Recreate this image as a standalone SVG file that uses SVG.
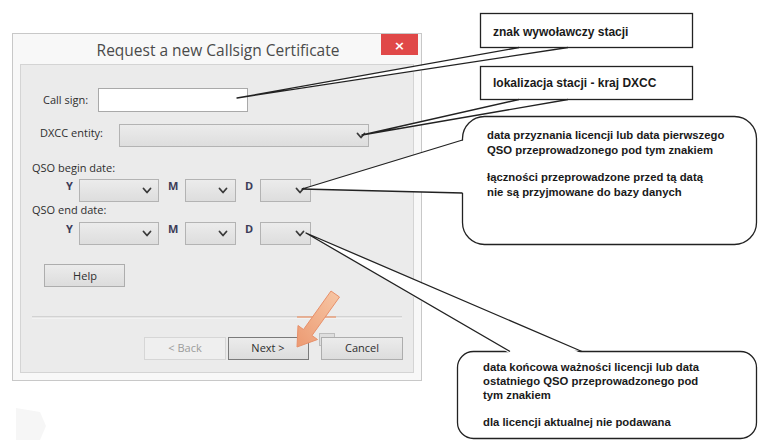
<svg xmlns="http://www.w3.org/2000/svg" width="759" height="442" viewBox="0 0 759 442">
<defs>
<linearGradient id="combo" x1="0" y1="0" x2="0" y2="1"><stop offset="0" stop-color="#ececec"/><stop offset="1" stop-color="#dddddd"/></linearGradient>
<linearGradient id="btn" x1="0" y1="0" x2="0" y2="1"><stop offset="0" stop-color="#ececec"/><stop offset="1" stop-color="#dcdcdc"/></linearGradient>
<linearGradient id="arrowg" x1="1" y1="0" x2="0" y2="1"><stop offset="0" stop-color="#f7c7a6"/><stop offset="1" stop-color="#ec9a72"/></linearGradient>
</defs>
<style>
.ui{font-family:"Open Sans","Noto Sans","DejaVu Sans",sans-serif;font-size:11px;fill:#2e2e2e}
.lbl{font-family:"Open Sans","Noto Sans","DejaVu Sans",sans-serif;font-size:11px;fill:#3c3c58;font-weight:bold}
.combo{fill:url(#combo);stroke:#b3b3b3;stroke-width:1}
.btn{fill:url(#btn);stroke:#adadad;stroke-width:1}
.chev{fill:none;stroke:#3a3a3a;stroke-width:1.8;stroke-linecap:round;stroke-linejoin:round}
.box{fill:#fff;stroke:#222;stroke-width:1.3}
.ct{font-family:"Liberation Sans",Arial,sans-serif;font-size:11.3px;font-weight:bold;fill:#1a1a1a}
.ct2{font-family:"Liberation Sans",Arial,sans-serif;font-size:12px;font-weight:bold;fill:#1a1a1a}
.wfill{fill:#fff;stroke:none}
.wline{fill:none;stroke:#222;stroke-width:1.3;stroke-linejoin:round}
</style>
<rect width="759" height="442" fill="#fff"/>
<path d="M16 408 L40 412 L46 426 L40 440 L16 440 Z" fill="#f6f6f6"/>

<g id="dialog">
<rect x="12.5" y="33.5" width="409" height="347" fill="#f8f8f8" stroke="#c8c8c8"/>
<text x="218" y="56" text-anchor="middle" style="font-family:'Open Sans','Noto Sans',sans-serif;font-size:15.5px;fill:#4a4a4a">Request a new Callsign Certificate</text>
<rect x="381" y="34" width="37" height="21" fill="#e04848"/>
<text x="399.5" y="49.5" text-anchor="middle" style="font-family:'DejaVu Sans',sans-serif;font-size:13px;font-weight:bold;fill:#fff">×</text>
<rect x="20.5" y="64.5" width="393" height="308" fill="#ebebeb" stroke="#d4d4d4"/>

<text class="ui" x="43" y="104">Call sign:</text>
<rect x="98.5" y="88.5" width="149" height="23" fill="#fff" stroke="#a9a9a9"/>

<text class="ui" x="40" y="137">DXCC entity:</text>
<rect class="combo" x="119.5" y="124.5" width="249" height="22"/>
<path class="chev" d="M357.5 133.5 L361 137.5 L364.5 133.5"/>

<text class="ui" x="32" y="172">QSO begin date:</text>
<text class="lbl" x="66" y="190">Y</text>
<rect class="combo" x="79.5" y="179.5" width="79" height="22"/>
<path class="chev" d="M143.5 188.5 L147 192.5 L150.5 188.5"/>
<text class="lbl" x="168" y="190">M</text>
<rect class="combo" x="185.5" y="179.5" width="50" height="22"/>
<path class="chev" d="M219.5 188.5 L223 192.5 L226.5 188.5"/>
<text class="lbl" x="245" y="190">D</text>
<rect class="combo" x="260.5" y="179.5" width="50" height="22"/>
<path class="chev" d="M296.5 188.5 L300 192.5 L303.5 188.5"/>

<text class="ui" x="32" y="214">QSO end date:</text>
<text class="lbl" x="66" y="233">Y</text>
<rect class="combo" x="79.5" y="222.5" width="79" height="22"/>
<path class="chev" d="M143.5 231.5 L147 235.5 L150.5 231.5"/>
<text class="lbl" x="168" y="233">M</text>
<rect class="combo" x="185.5" y="222.5" width="50" height="22"/>
<path class="chev" d="M219.5 231.5 L223 235.5 L226.5 231.5"/>
<text class="lbl" x="245" y="233">D</text>
<rect class="combo" x="260.5" y="222.5" width="50" height="22"/>
<path class="chev" d="M296.5 231.5 L300 235.5 L303.5 231.5"/>

<rect class="btn" x="44.5" y="264.5" width="80" height="22"/>
<text class="ui" x="85" y="280" text-anchor="middle">Help</text>

<line x1="32" y1="317" x2="402" y2="317" stroke="#b9b9b9"/>
<line x1="32" y1="318" x2="402" y2="318" stroke="#fafafa"/>
<line x1="297" y1="317" x2="336" y2="317" stroke="#e8a07c" stroke-width="1.5"/>

<rect x="144.5" y="337.5" width="81" height="22" fill="#efefef" stroke="#d6d6d6"/>
<text class="ui" x="185" y="352" text-anchor="middle" style="fill:#9c9c9c">&lt; Back</text>
<rect class="btn" x="228.5" y="337.5" width="80" height="22" style="stroke:#7a7a7a"/>
<text class="ui" x="268" y="352" text-anchor="middle">Next &gt;</text>
<rect x="319.5" y="333.5" width="15" height="12" fill="#dedede" stroke="#bdbdbd"/>
<rect class="btn" x="321.5" y="337.5" width="81" height="22"/>
<text class="ui" x="362" y="352" text-anchor="middle">Cancel</text>
</g>

<g id="arrow">
<polygon points="297,347 317.5,339.5 312,335.5 339.5,297 331,291 303.5,329.5 298,325.5" fill="url(#arrowg)" stroke="#e8906a" stroke-width="1"/>
</g>

<g id="callout-callsign">
<rect class="box" x="480.5" y="13.5" width="212" height="34"/>
<text class="ct2" x="493" y="36">znak wywoławczy stacji</text>
</g>
<g id="callout-dxcc">
<rect class="box" x="480.5" y="66.5" width="212" height="33"/>
<text class="ct2" x="493" y="87">lokalizacja stacji - kraj DXCC</text>
</g>
<g id="callout-begin">
<rect class="box" x="462.5" y="116.5" width="294" height="128" rx="22" ry="22"/>
<text class="ct" x="487" y="139">data przyznania licencji lub data pierwszego</text>
<text class="ct" x="487" y="154">QSO przeprowadzonego pod tym znakiem</text>
<text class="ct" x="487" y="181">łączności przeprowadzone przed tą datą</text>
<text class="ct" x="487" y="196">nie są przyjmowane do bazy danych</text>
</g>
<g id="callout-end">
<rect class="box" x="457.5" y="351.5" width="299" height="87" rx="16" ry="16"/>
<text class="ct" x="483" y="371">data końcowa ważności licencji lub data</text>
<text class="ct" x="483" y="385">ostatniego QSO przeprowadzonego pod</text>
<text class="ct" x="483" y="399">tym znakiem</text>
<text class="ct" x="483" y="426">dla licencji aktualnej nie podawana</text>
</g>

<g id="connectors">
<polygon class="wfill" points="237,98 519,49 568,49"/>
<path class="wline" d="M519 47.5 L237 98 L568 47.5"/>
<polygon class="wfill" points="362,135 519,101 568,101"/>
<path class="wline" d="M519 99.5 L362 135 L568 99.5"/>
<polygon class="wfill" points="302,189 464.5,140 464.5,193"/>
<path class="wline" d="M462.5 140 L302 189 L462.5 193"/>
<polygon class="wfill" points="306,233 510,353.5 582,353.5"/>
<path class="wline" d="M510 351.5 L306 233 L582 351.5"/>
</g>
</svg>
